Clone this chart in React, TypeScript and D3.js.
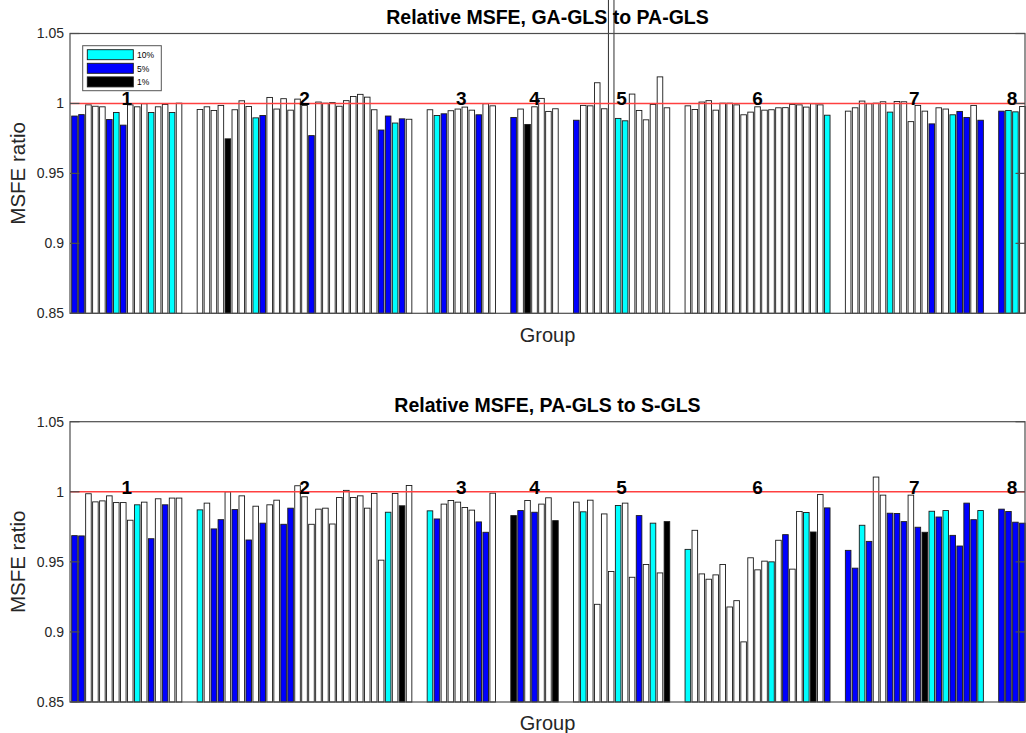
import React, { useEffect, useRef } from "react";
import * as d3 from "d3";

// ---------- data ----------
const groupLabels = ["1", "2", "3", "4", "5", "6", "7", "8"];
const groupStartSlots = [1, 19, 52, 64, 73, 89, 112, 134];
const yTicks = [0.85, 0.9, 0.95, 1, 1.05];
const legendLabels = ["10%", "5%", "1%"];

// significance codes: W = none, C = 10%, B = 5%, K = 1%
const topValues: number[][] = [
  [0.991, 0.992, 0.999, 0.998, 0.9976, 0.9885, 0.9935, 0.9845, 0.999, 0.9976, 0.9998, 0.9935, 0.9976, 0.9993, 0.9935, 1.0002],
  [0.9957, 0.9976, 0.995, 0.9986, 0.9747, 0.9955, 1.0019, 0.9978, 0.9897, 0.9914, 1.0043, 0.996, 1.0034, 0.9952, 1.0031, 0.9986, 0.977, 1.001, 1.0002, 1.0006, 0.998, 1.002, 1.005, 1.0065, 1.0045, 0.9955, 0.981, 0.991, 0.986, 0.989, 0.9887],
  [0.9955, 0.9914, 0.9926, 0.9948, 0.996, 0.9974, 0.9952, 0.9919, 0.9998, 0.9983],
  [0.99, 0.996, 0.985, 0.9976, 1.0036, 0.9943, 0.9962],
  [0.988, 0.9986, 0.9983, 1.0148, 0.9962, 1.09, 0.9893, 0.9876, 1.0067, 0.995, 0.9883, 0.9993, 1.019, 0.9969],
  [0.9983, 0.9957, 1.001, 1.002, 0.9952, 1.0002, 1.0002, 0.999, 0.9919, 0.9938, 0.9976, 0.9952, 0.9955, 0.9969, 0.997, 0.9993, 0.999, 0.9974, 0.9998, 0.999, 0.9916],
  [0.9945, 0.9969, 1.0017, 0.9998, 1.0002, 1.0012, 0.9938, 1.0014, 1.0012, 0.987, 0.9986, 0.9945, 0.9854, 0.9969, 0.996, 0.9919, 0.9943, 0.99, 0.9986, 0.988],
  [0.9945, 0.995, 0.994, 0.9978],
];
const topSig = [
  "BBWWWBCBWWWCWWCW",
  "WWWWKWWWCBWWWWWWBWWWWWWWWWBBCBW",
  "WCBWWWWBWW",
  "BWKWWWW",
  "BWWWWWCCWWWWWW",
  "WWWWWWWWWWWWWWWWWWWWC",
  "WWWWWWCWWWWWBWWCBBWB",
  "BCCW",
];

const bottomValues: number[][] = [
  [0.9687, 0.9685, 0.9986, 0.9928, 0.9935, 0.9971, 0.9923, 0.9923, 0.9797, 0.9907, 0.9926, 0.9665, 0.995, 0.9907, 0.9955, 0.9955],
  [0.9871, 0.9919, 0.9735, 0.9801, 1.0, 0.9873, 0.9971, 0.9656, 0.9897, 0.9776, 0.9907, 0.994, 0.9768, 0.9883, 1.0043, 0.9964, 0.9768, 0.9876, 0.9883, 0.977, 0.9959, 1.001, 0.9959, 0.9971, 0.9883, 0.9988, 0.9512, 0.9854, 0.9988, 0.99, 1.0045],
  [0.9864, 0.9806, 0.9912, 0.9938, 0.9926, 0.9888, 0.9869, 0.9785, 0.9711, 0.999],
  [0.983, 0.9866, 0.9938, 0.9854, 0.9912, 0.9957, 0.9794],
  [0.9926, 0.9857, 0.994, 0.9197, 0.9842, 0.9431, 0.9902, 0.9919, 0.939, 0.983, 0.9481, 0.9776, 0.9421, 0.9787],
  [0.9589, 0.9725, 0.9414, 0.9376, 0.9407, 0.9481, 0.9178, 0.9223, 0.8929, 0.9529, 0.9443, 0.9505, 0.95, 0.9654, 0.9694, 0.9448, 0.9859, 0.9852, 0.9713, 0.998, 0.9885],
  [0.9582, 0.9455, 0.9761, 0.9646, 1.0105, 0.9976, 0.9847, 0.9845, 0.9787, 0.9976, 0.9747, 0.9711, 0.9861, 0.982, 0.9866, 0.9689, 0.9613, 0.9919, 0.9801, 0.9866],
  [0.9876, 0.9859, 0.9783, 0.9776],
];
const bottomSig = [
  "BBWWWWWWWCWBWBWW",
  "CWBBWBWBWBWWBBWWWWWWWWWWWWWCWKW",
  "CBWWWWWBBW",
  "KBWBWWK",
  "WCWWWWCWWBWCWK",
  "CWWWWWWWWWWWCWBWWCKWB",
  "BBCBWWBBBWBKCBCBBBBC",
  "BBBB",
];

const panelTitles = ["Relative MSFE, GA-GLS to PA-GLS", "Relative MSFE, PA-GLS to S-GLS"];

// ---------- styling ----------
const W = 1026;
const H = 733;
const FONT = "'Liberation Sans', Arial, Helvetica, sans-serif";
const sigColor: Record<string, string> = { W: "#ffffff", C: "#00ffff", B: "#0000ff", K: "#000000" };
const legendColors = ["#00ffff", "#0000ff", "#000000"];
const AXIS = "#4d4d4d";

export default function App() {
  const ref = useRef<SVGSVGElement | null>(null);

  useEffect(() => {
    const svg = d3.select(ref.current);
    svg.selectAll("*").remove();

    const left = 70;
    const right = 1025;
    const x = d3.scaleLinear().domain([1, 137]).range([74.5, 1022.4]);
    const step = x(2) - x(1);
    const bw = step * 0.8;

    const panels = [
      { values: topValues, sig: topSig, top: 33.5, bottom: 313.3, title: panelTitles[0], legend: true },
      { values: bottomValues, sig: bottomSig, top: 421.7, bottom: 702, title: panelTitles[1], legend: false },
    ];

    panels.forEach((p) => {
      const y = d3.scaleLinear().domain([0.85, 1.05]).range([p.bottom, p.top]);
      const g = svg.append("g");

      g.append("rect").attr("x", left).attr("y", p.top).attr("width", right - left).attr("height", p.bottom - p.top).attr("fill", "#fff");

      // bars
      const bars: { slot: number; v: number; s: string }[] = [];
      p.values.forEach((arr, gi) => {
        arr.forEach((v, i) => bars.push({ slot: groupStartSlots[gi] + i, v, s: p.sig[gi][i] }));
      });
      g.selectAll("rect.bar")
        .data(bars)
        .enter()
        .append("rect")
        .attr("class", "bar")
        .attr("x", (d) => x(d.slot) - bw / 2)
        .attr("width", bw)
        .attr("y", (d) => y(d.v))
        .attr("height", (d) => y(0.85) - y(d.v))
        .attr("fill", (d) => sigColor[d.s])
        .attr("stroke", "#1a1a1a")
        .attr("stroke-width", 0.9);

      // reference line
      g.append("line")
        .attr("x1", left).attr("x2", right)
        .attr("y1", y(1)).attr("y2", y(1))
        .attr("stroke", "#ff4040").attr("stroke-width", 1.5);

      // group labels
      groupLabels.forEach((lab, gi) => {
        const start = groupStartSlots[gi];
        const end = start + p.values[gi].length - 1;
        g.append("text")
          .attr("x", x((start + end) / 2))
          .attr("y", y(1) + 2)
          .attr("text-anchor", "middle")
          .attr("font-family", FONT)
          .attr("font-weight", "bold")
          .attr("font-size", 19)
          .attr("fill", "#000")
          .text(lab);
      });

      // axes box
      g.append("rect")
        .attr("x", left).attr("y", p.top)
        .attr("width", right - left).attr("height", p.bottom - p.top)
        .attr("fill", "none").attr("stroke", AXIS).attr("stroke-width", 1.2);

      // y ticks (inward, both sides) + labels
      yTicks.forEach((t) => {
        const yy = y(t);
        g.append("line").attr("x1", left).attr("x2", left + 9.5).attr("y1", yy).attr("y2", yy).attr("stroke", AXIS).attr("stroke-width", 1.2);
        g.append("line").attr("x1", right - 9.5).attr("x2", right).attr("y1", yy).attr("y2", yy).attr("stroke", AXIS).attr("stroke-width", 1.2);
        g.append("text")
          .attr("x", 64)
          .attr("y", yy)
          .attr("dy", "0.35em")
          .attr("text-anchor", "end")
          .attr("font-family", FONT)
          .attr("font-size", 14)
          .attr("fill", "#262626")
          .text(d3.format("")(t));
      });

      // title
      svg.append("text")
        .attr("x", (left + right) / 2)
        .attr("y", p.top - 9.5)
        .attr("text-anchor", "middle")
        .attr("font-family", FONT)
        .attr("font-weight", "bold")
        .attr("font-size", 19.5)
        .attr("fill", "#000")
        .text(p.title);

      // x label
      svg.append("text")
        .attr("x", (left + right) / 2)
        .attr("y", p.bottom + 28.4)
        .attr("text-anchor", "middle")
        .attr("font-family", FONT)
        .attr("font-size", 20)
        .attr("fill", "#262626")
        .text("Group");

      // y label
      const cy = (p.top + p.bottom) / 2;
      svg.append("text")
        .attr("transform", `translate(25,${cy}) rotate(-90)`)
        .attr("text-anchor", "middle")
        .attr("font-family", FONT)
        .attr("font-size", 20.5)
        .attr("fill", "#262626")
        .text("MSFE ratio");

      // legend
      if (p.legend) {
        const lg = svg.append("g");
        lg.append("rect")
          .attr("x", 82.7).attr("y", 45.7).attr("width", 78.6).attr("height", 45)
          .attr("fill", "#fff").attr("stroke", "#555").attr("stroke-width", 1);
        const rows = [49.7, 63.3, 76.9];
        legendLabels.forEach((lab, i) => {
          lg.append("rect")
            .attr("x", 87.3).attr("y", rows[i]).attr("width", 46).attr("height", 10)
            .attr("fill", legendColors[i]).attr("stroke", "#1a1a1a").attr("stroke-width", 0.9);
          lg.append("text")
            .attr("x", 137).attr("y", rows[i] + 8.5)
            .attr("font-family", FONT).attr("font-size", 8.5).attr("fill", "#000")
            .text(lab);
        });
      }
    });
  }, []);

  return (
    <svg
      ref={ref}
      width={W}
      height={H}
      style={{ position: "absolute", left: 0, top: 0, display: "block", background: "#fff" }}
    />
  );
}
